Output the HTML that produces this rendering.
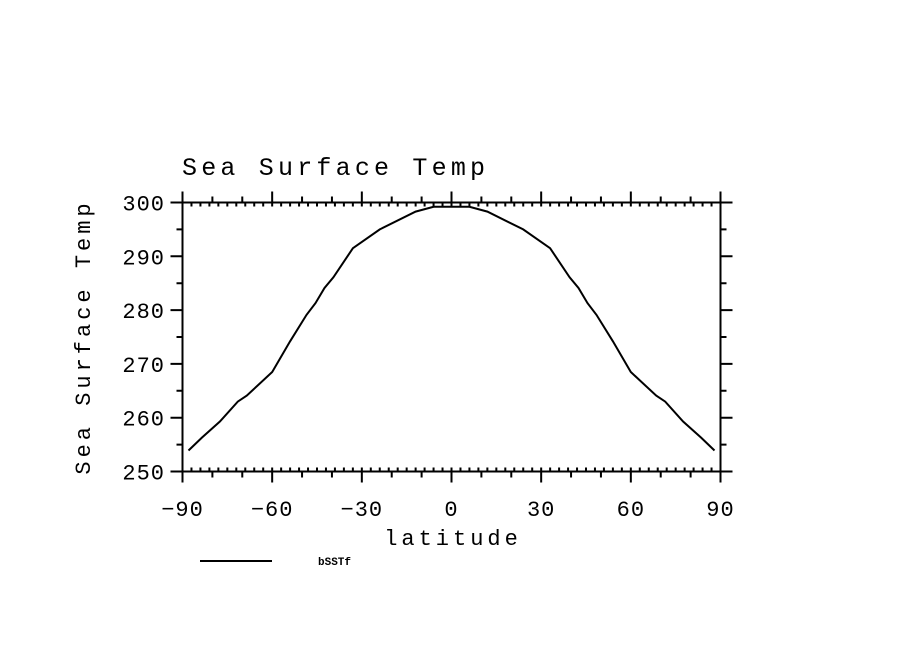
<!DOCTYPE html>
<html><head><meta charset="utf-8"><style>
html,body{margin:0;padding:0;background:#fff;}
svg text{font-family:"Liberation Mono","DejaVu Sans Mono",monospace;fill:#000;}
</style></head><body>
<svg width="904" height="654" xmlns="http://www.w3.org/2000/svg">
<g id="axes"></g>
<script>
const lats=[-88,-83.5,-77.5,-71.5,-68.5,-60,-54,-48.5,-45.5,-42.5,-39.5,-33,-24,-12,-6,0,6,12,24,33,39.5,42.5,45.5,48.5,54,60,68.5,71.5,77.5,83.5,88];
const sst=[253.9,256.3,259.3,263.0,264.1,268.5,274.2,279.1,281.3,284.1,286.1,291.5,295.0,298.3,299.2,299.2,299.2,298.3,295.0,291.5,286.1,284.1,281.3,279.1,274.2,268.5,264.1,263.0,259.3,256.3,253.9];
const xTicks=[-90,-60,-30,0,30,60,90];
const yTicks=[250,260,270,280,290,300];
const X0=182.5,X1=720.5,Y0=471.5,Y1=202.5;
const sx=v=>X0+(v+90)/180*(X1-X0);
const sy=v=>Y0-(v-250)/50*(Y0-Y1);
const NS="http://www.w3.org/2000/svg";
const svg=document.querySelector('svg');
function mk(tag,attrs,parent){const e=document.createElementNS(NS,tag);for(const k in attrs)e.setAttribute(k,attrs[k]);(parent||svg).appendChild(e);return e;}
let d="";
function ln(x1,y1,x2,y2){d+=`M${x1} ${y1}L${x2} ${y2}`;}
// frame
ln(X0,Y0,X1,Y0);ln(X0,Y1,X1,Y1);ln(X0,Y0,X0,Y1);ln(X1,Y0,X1,Y1);
// x ticks
for(let v=-90;v<=90;v+=3){const x=sx(v);ln(x,Y0,x,Y0-4);ln(x,Y1,x,Y1+4);}
for(let v=-90;v<=90;v+=10){const x=sx(v);const L=(v%30===0)?11:6;ln(x,Y0,x,Y0+L);ln(x,Y1,x,Y1-L);}
// y ticks
for(let v=250;v<=300;v+=5){const y=sy(v);const L=(v%10===0)?12:6;ln(X0,y,X0-L,y);ln(X1,y,X1+L,y);}
const frame=mk('path',{d:d,stroke:'#000','stroke-width':2,fill:'none'});


xTicks.forEach(v=>{const t=mk('text',{x:sx(v),y:516,'text-anchor':'middle','font-size':22,'letter-spacing':1});t.textContent=String(v).replace('-','\u2212');

});
yTicks.forEach(v=>{const t=mk('text',{x:165,y:sy(v)+8,'text-anchor':'end','font-size':22,'letter-spacing':1});t.textContent=v;

});
const pts=lats.map((l,i)=>sx(l).toFixed(1)+','+sy(sst[i]).toFixed(1)).join(' ');
const line=mk('polyline',{points:pts,fill:'none',stroke:'#000','stroke-width':2});


</script>
<text x="182" y="175" font-size="25" letter-spacing="4.2">Sea Surface Temp</text>
<text x="453" y="545" font-size="22" text-anchor="middle" letter-spacing="4">latitude</text>
<text transform="translate(90,337) rotate(-90)" font-size="22" text-anchor="middle" letter-spacing="4">Sea Surface Temp</text>
<line x1="200" y1="561" x2="272" y2="561" stroke="#000" stroke-width="2"/>
<text x="318" y="565" font-size="11" font-weight="bold">bSSTf</text>
</svg>
</body></html>
